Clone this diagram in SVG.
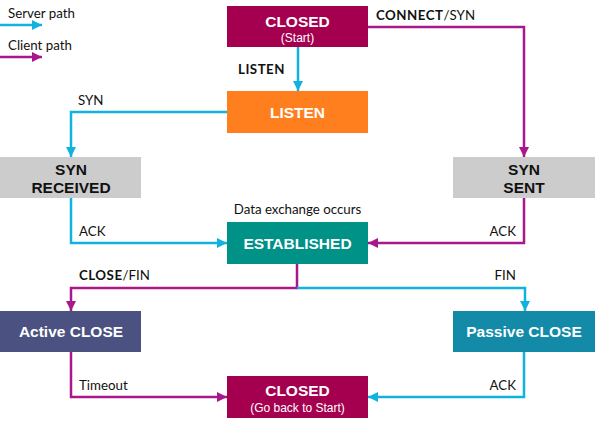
<svg xmlns="http://www.w3.org/2000/svg" width="595" height="421" viewBox="0 0 595 421">
<defs>
<marker id="ac" viewBox="0 0 10 10" refX="10" refY="5" markerWidth="4.2" markerHeight="4" orient="auto" markerUnits="strokeWidth"><path d="M0,0 L10,5 L0,10 z" fill="#12B2E0"/></marker>
<marker id="am" viewBox="0 0 10 10" refX="10" refY="5" markerWidth="4.2" markerHeight="4" orient="auto" markerUnits="strokeWidth"><path d="M0,0 L10,5 L0,10 z" fill="#A8188C"/></marker>
<style>
.c{fill:none;stroke:#12B2E0;stroke-width:2.5;marker-end:url(#ac)}
.m{fill:none;stroke:#A8188C;stroke-width:2.5;marker-end:url(#am)}
.nt{font-family:"Liberation Sans",Arial,sans-serif;font-weight:bold;font-size:15.5px;fill:#fff;text-anchor:middle}
.nd{font-family:"Liberation Sans",Arial,sans-serif;font-weight:bold;font-size:15.5px;fill:#111;text-anchor:middle}
.ns{font-family:"Liberation Sans",Arial,sans-serif;font-size:12px;fill:#fff;text-anchor:middle}
.l{font-family:Lato,"Open Sans",sans-serif;font-size:13.3px;fill:#111}
.lb{font-weight:bold;letter-spacing:0.5px}
</style>
</defs>
<g id="legend">
<text class="l" x="8" y="18">Server path</text>
<line class="c" x1="0" y1="25" x2="42" y2="25"/>
<text class="l" x="8" y="50">Client path</text>
<line class="m" x1="0" y1="57" x2="42" y2="57"/>
</g>
<g id="connectors">
<line class="c" x1="298" y1="47" x2="298" y2="91"/>
<text class="l lb" x="238" y="74">LISTEN</text>
<polyline class="m" points="368,27 524,27 524,157"/>
<text class="l" x="376" y="20"><tspan class="lb">CONNECT</tspan>/SYN</text>
<polyline class="c" points="227,112 71,112 71,157"/>
<text class="l" x="78" y="105">SYN</text>
<polyline class="c" points="71,198 71,243 227,243"/>
<text class="l" x="79" y="236">ACK</text>
<polyline class="m" points="524,198 524,243 368,243"/>
<text class="l" x="516" y="236" text-anchor="end">ACK</text>
<polyline class="m" points="297,264 297,288 71,288 71,311"/>
<text class="l" x="79" y="280"><tspan class="lb">CLOSE</tspan>/FIN</text>
<polyline class="c" points="297,288 525,288 525,311"/>
<text class="l" x="516" y="280" text-anchor="end">FIN</text>
<polyline class="m" points="71,352 71,397 227,397"/>
<text class="l" x="79" y="390">Timeout</text>
<polyline class="c" points="524,352 524,397 368,397"/>
<text class="l" x="516" y="390" text-anchor="end">ACK</text>
</g>
<g id="closed-start">
<rect x="227" y="6" width="141" height="41" fill="#A5004F"/>
<text class="nt" x="297.5" y="27">CLOSED</text>
<text class="ns" x="297.5" y="42">(Start)</text>
</g>
<g id="listen">
<rect x="227" y="91" width="141" height="42" fill="#FF7F1E"/>
<text class="nt" x="297.5" y="118">LISTEN</text>
</g>
<g id="syn-received">
<rect x="0" y="157" width="141" height="41" fill="#CCCCCC"/>
<text class="nd" x="71" y="175">SYN</text>
<text class="nd" x="71" y="193">RECEIVED</text>
</g>
<g id="syn-sent">
<rect x="453" y="157" width="142" height="41" fill="#CCCCCC"/>
<text class="nd" x="524" y="175">SYN</text>
<text class="nd" x="524" y="193">SENT</text>
</g>
<g id="established">
<text class="l" x="297.5" y="214" text-anchor="middle">Data exchange occurs</text>
<rect x="227" y="222" width="141" height="42" fill="#009286"/>
<text class="nt" x="297.5" y="249">ESTABLISHED</text>
</g>
<g id="active-close">
<rect x="0" y="311" width="141" height="41" fill="#4B5281"/>
<text class="nt" x="71" y="337">Active CLOSE</text>
</g>
<g id="passive-close">
<rect x="453" y="311" width="142" height="41" fill="#138AA7"/>
<text class="nt" x="524" y="337">Passive CLOSE</text>
</g>
<g id="closed-end">
<rect x="227" y="376" width="141" height="42" fill="#A5004F"/>
<text class="nt" x="297.5" y="396">CLOSED</text>
<text class="ns" x="297.5" y="412">(Go back to Start)</text>
</g>
</svg>
